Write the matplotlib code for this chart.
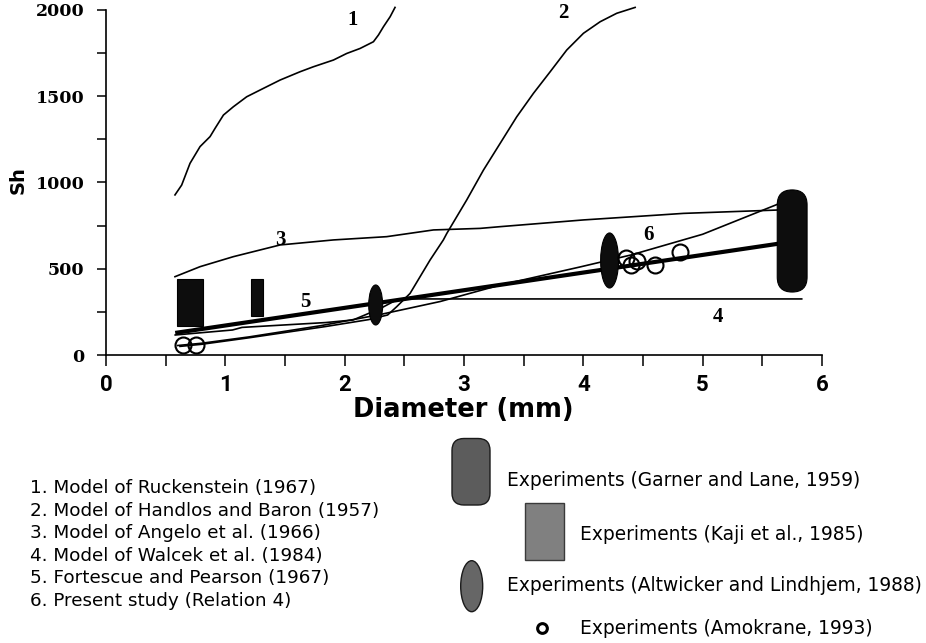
import matplotlib
matplotlib.use("Agg")
import matplotlib.pyplot as plt
from matplotlib.patches import FancyBboxPatch, Rectangle, Ellipse
from matplotlib.ticker import MultipleLocator, FixedLocator
import numpy as np

# ---------------- data ----------------
# 1. Ruckenstein (1967)
c1_d = [0.578, 0.634, 0.704, 0.788, 0.872, 0.914, 0.984, 1.067, 1.179, 1.291, 1.459,
        1.626, 1.738, 1.906, 2.017, 2.129, 2.241, 2.283, 2.325, 2.381, 2.422]
c1_sh = [928, 985, 1111, 1208, 1266, 1314, 1391, 1439, 1497, 1536, 1594,
         1642, 1671, 1710, 1748, 1777, 1816, 1855, 1903, 1961, 2015]
# 2. Handlos and Baron (1957)
c2_d = [0.62, 0.80, 1.20, 1.84, 2.20, 2.36, 2.436, 2.548, 2.632, 2.716, 2.827, 2.856,
        3.023, 3.163, 3.303, 3.442, 3.582, 3.722, 3.861, 4.001, 4.141, 4.280, 4.434]
c2_sh = [50, 62, 100, 165, 205, 232, 280, 357, 454, 551, 667, 705,
         899, 1072, 1227, 1381, 1517, 1642, 1768, 1865, 1932, 1981, 2015]
# 3. Angelo et al. (1966)
c3_d = [0.578, 0.788, 1.067, 1.459, 1.905, 2.352, 2.744, 3.135, 3.303, 4.001, 4.644, 4.839, 5.65, 5.75]
c3_sh = [454, 512, 570, 638, 667, 686, 725, 734, 744, 783, 812, 821, 841, 843]
# 4. Walcek et al. (1984)
c4_d = [0.58, 1.06, 1.14, 1.84, 2.07, 2.30, 2.45, 5.83]
c4_sh = [116, 145, 160, 188, 203, 270, 325, 325]
# 5. Fortescue and Pearson (1967)
c5_d = [0.58, 5.78]
c5_sh = [128, 660]
# 6. Present study (Relation 4)
c6_d = [0.60, 0.80, 1.20, 1.80, 2.30, 2.80, 3.30, 3.97, 4.40, 5.00, 5.65, 5.75]
c6_sh = [55, 68, 105, 170, 235, 310, 405, 510, 580, 700, 880, 900]

# Experiments (Garner and Lane, 1959): centre d, Sh low, Sh high, width
garner_d = [5.75]
garner_lo = [365]
garner_hi = [957]
garner_w = [0.25]
# Experiments (Kaji et al., 1985): d left, d right, Sh low, Sh high
kaji_d0 = [0.595, 1.215]
kaji_d1 = [0.810, 1.315]
kaji_lo = [168, 226]
kaji_hi = [441, 441]
# Experiments (Altwicker and Lindhjem, 1988): centre d, centre Sh, width, height
alt_d = [2.26, 4.22]
alt_sh = [290, 548]
alt_w = [0.117, 0.15]
alt_h = [232, 319]
# Experiments (Amokrane, 1993)
amo_d = [0.645, 0.754, 4.36, 4.40, 4.45, 4.60, 4.81]
amo_sh = [58, 58, 560, 520, 545, 520, 595]

curve_labels = ["1", "2", "3", "4", "5", "6"]
curve_label_d = [2.07, 3.83, 1.458, 5.13, 1.668, 4.545]
curve_label_sh = [1942, 1984, 667, 222, 309, 696]

x_ticks = [0, 1, 2, 3, 4, 5, 6]
y_ticks = [0, 500, 1000, 1500, 2000]

legend_lines = ["1. Model of Ruckenstein (1967)",
                "2. Model of Handlos and Baron (1957)",
                "3. Model of Angelo et al. (1966)",
                "4. Model of Walcek et al. (1984)",
                "5. Fortescue and Pearson (1967)",
                "6. Present study (Relation 4)"]
exp_labels = ["Experiments (Garner and Lane, 1959)",
              "Experiments (Kaji et al., 1985)",
              "Experiments (Altwicker and Lindhjem, 1988)",
              "Experiments (Amokrane, 1993)"]

# ---------------- figure ----------------
W, H = 926, 643
fig = plt.figure(figsize=(W / 100, H / 100), dpi=100)
ax_l, ax_r, ax_t, ax_b = 106, 822, 10, 355
ax = fig.add_axes([ax_l / W, 1 - ax_b / H, (ax_r - ax_l) / W, (ax_b - ax_t) / H])
ax.set_xlim(0, 6)
ax.set_ylim(0, 2000)
for s in ["top", "right"]:
    ax.spines[s].set_visible(False)
for s in ["left", "bottom"]:
    ax.spines[s].set_linewidth(1.2)

ax.xaxis.set_major_locator(FixedLocator(x_ticks))
ax.xaxis.set_minor_locator(MultipleLocator(0.5))
ax.yaxis.set_major_locator(FixedLocator(y_ticks))
ax.yaxis.set_minor_locator(MultipleLocator(250))
ax.tick_params(axis="x", which="both", direction="out", length=8, width=1.1, pad=6)
ax.tick_params(axis="y", which="both", direction="out", length=6.5, width=1.1, pad=9)
ax.set_xticklabels([str(v) for v in x_ticks],
                   fontdict=dict(family=["Roboto", "DejaVu Sans"], weight="bold", size=16))
ax.set_yticklabels([str(v) for v in y_ticks],
                   fontdict=dict(family=["DejaVu Serif"], weight="bold", size=12.5))

lw_thin = 1.2
for d, sh in [(c1_d, c1_sh), (c2_d, c2_sh), (c3_d, c3_sh), (c4_d, c4_sh), (c6_d, c6_sh)]:
    ax.plot(d, sh, color="black", lw=lw_thin, clip_on=False, zorder=3)
ax.plot(c5_d, c5_sh, color="black", lw=3.0, zorder=3, solid_capstyle="butt")

# scale for rounded box in data units
px_x = (ax_r - ax_l) / 6.0
px_y = (ax_b - ax_t) / 2000.0
aspect = px_x / px_y

mark_fc = "#0d0d0d"
for d, lo, hi, w in zip(garner_d, garner_lo, garner_hi, garner_w):
    p = FancyBboxPatch((d - w / 2, lo), w, hi - lo,
                       boxstyle="round,pad=0,rounding_size=%f" % (w / 2),
                       mutation_aspect=aspect, fc=mark_fc, ec="black", lw=0.8, zorder=5)
    ax.add_patch(p)
for d0, d1, lo, hi in zip(kaji_d0, kaji_d1, kaji_lo, kaji_hi):
    ax.add_patch(Rectangle((d0, lo), d1 - d0, hi - lo, fc=mark_fc, ec="black", lw=0.8, zorder=5))
for d, sh, w, h in zip(alt_d, alt_sh, alt_w, alt_h):
    ax.add_patch(Ellipse((d, sh), w, h, fc=mark_fc, ec="black", lw=0.8, zorder=5))
ax.plot(amo_d, amo_sh, linestyle="none", marker="o", ms=11.5, mfc="none",
        mec="black", mew=1.5, zorder=6, clip_on=False)

for t, d, sh in zip(curve_labels, curve_label_d, curve_label_sh):
    ax.text(d, sh, t, ha="center", va="center", family=["Liberation Serif", "DejaVu Serif"],
            weight="bold", size=15, zorder=7)

# axis titles
fig.text(18 / W, 1 - 180 / H, "Sh", rotation=90, ha="center", va="center",
         family="DejaVu Sans", weight="bold", size=14)
fig.text(463 / W, 1 - 410 / H, "Diameter (mm)", ha="center", va="center",
         family="DejaVu Sans", weight="bold", size=18.5)

# ---------------- legend area (figure pixel coords) ----------------
lg = fig.add_axes([0, 0, 1, 1], zorder=10)
lg.set_xlim(0, W)
lg.set_ylim(H, 0)
lg.axis("off")
lg.patch.set_alpha(0)

line_y = [488.3, 510.7, 533.3, 556, 578.3, 601]
for t, y in zip(legend_lines, line_y):
    lg.text(30, y, t, ha="left", va="center", family="DejaVu Sans", size=13.2)

lg.add_patch(FancyBboxPatch((452, 438.5), 38, 66.5, boxstyle="round,pad=0,rounding_size=12",
                            fc="#5c5c5c", ec="#1a1a1a", lw=1.0))
lg.add_patch(Rectangle((524.5, 502.7), 39.5, 57.3, fc="#808080", ec="#3a3a3a", lw=1.0))
lg.add_patch(Ellipse((471.7, 586.2), 22, 51, fc="#666666", ec="#1a1a1a", lw=1.0))
lg.plot([542], [627.8], marker="o", ms=7, mfc="none", mec="black", mew=2.2)

exp_x = [507, 580, 507, 580]
exp_y = [481, 535, 585.7, 628.3]
for t, x, y in zip(exp_labels, exp_x, exp_y):
    lg.text(x, y, t, ha="left", va="center", family="DejaVu Sans", size=13.4)

fig.savefig("out.png", dpi=100)
